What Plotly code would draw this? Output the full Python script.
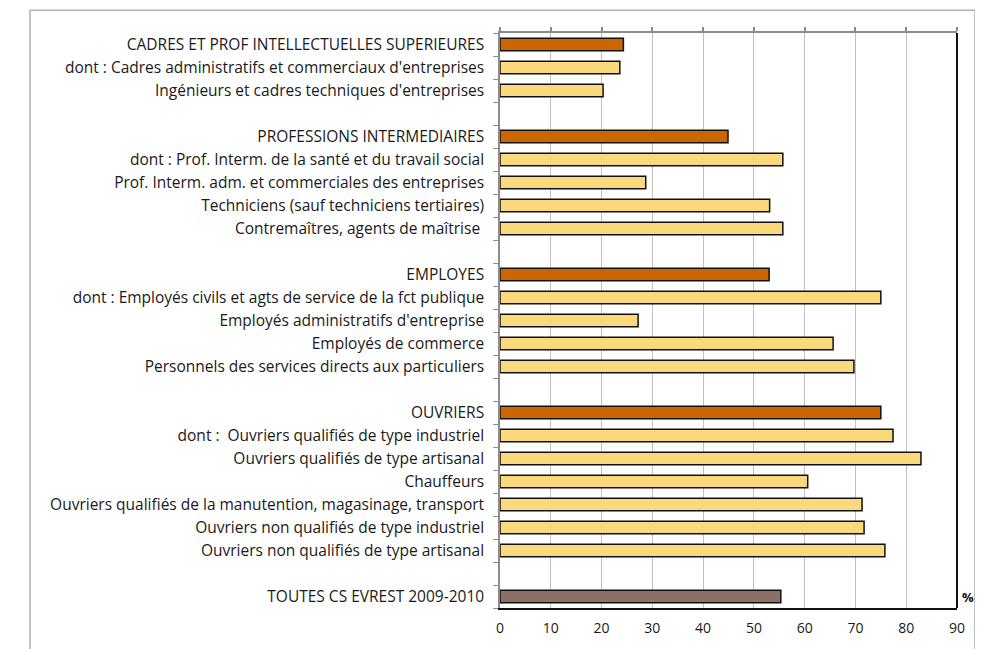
import plotly.graph_objects as go

labels = [
    "CADRES ET PROF INTELLECTUELLES SUPERIEURES",
    "dont : Cadres administratifs et commerciaux d'entreprises",
    "Ingénieurs et cadres techniques d'entreprises",
    "",
    "PROFESSIONS INTERMEDIAIRES",
    "dont : Prof. Interm. de la santé et du travail social",
    "Prof. Interm. adm. et commerciales des entreprises",
    "Techniciens (sauf techniciens tertiaires)",
    "Contremaîtres, agents de maîtrise ",
    "",
    "EMPLOYES",
    "dont : Employés civils et agts de service de la fct publique",
    "Employés administratifs d'entreprise",
    "Employés de commerce",
    "Personnels des services directs aux particuliers",
    "",
    "OUVRIERS",
    "dont :  Ouvriers qualifiés de type industriel",
    "Ouvriers qualifiés de type artisanal",
    "Chauffeurs",
    "Ouvriers qualifiés de la manutention, magasinage, transport",
    "Ouvriers non qualifiés de type industriel",
    "Ouvriers non qualifiés de type artisanal",
    "",
    "TOUTES CS EVREST 2009-2010",
]
values = [
    24.3, 23.6, 20.3, None,
    44.9, 55.7, 28.7, 53.1, 55.7, None,
    53.0, 75.0, 27.2, 65.6, 69.7, None,
    75.0, 77.4, 82.9, 60.6, 71.3, 71.7, 75.8, None,
    55.3,
]
kinds = [
    "g", "s", "s", "-",
    "g", "s", "s", "s", "s", "-",
    "g", "s", "s", "s", "s", "-",
    "g", "s", "s", "s", "s", "s", "s", "-",
    "t",
]
x_ticks = [0, 10, 20, 30, 40, 50, 60, 70, 80, 90]

color_map = {"g": "#CC6600", "s": "#FAD97C", "t": "#8C7068", "-": "rgba(0,0,0,0)"}
positions = list(range(len(labels)))
colors = [color_map[k] for k in kinds]

FONT = "Open Sans, Noto Sans, sans-serif"

fig = go.Figure()
fig.add_trace(go.Bar(
    x=values,
    y=positions,
    orientation="h",
    width=0.55,
    marker=dict(color=colors, line=dict(color="#111111", width=1.5)),
    hoverinfo="x",
))
# empty helper trace so the top (gray) axis with its small tick marks is drawn
fig.add_trace(go.Scatter(x=[None], y=[None], xaxis="x2", yaxis="y",
                         mode="markers", showlegend=False, hoverinfo="skip"))

# body of the page has an 8px margin: compensate so the plot area sits at x=500..957, y=33..612
fig.update_layout(
    width=975, height=641,
    margin=dict(l=492, r=26, t=25, b=37),
    paper_bgcolor="white", plot_bgcolor="white",
    showlegend=False,
    font=dict(family=FONT, size=15.5, color="#1a1a1a"),
    xaxis2=dict(overlaying="x", side="top", range=[0, 90], tickvals=x_ticks,
                showticklabels=False, ticks="outside", ticklen=4, tickwidth=1.5,
                tickcolor="#8C8C8C", showline=True, linecolor="#8C8C8C", linewidth=1.5,
                showgrid=False, zeroline=False, fixedrange=True),
)
fig.layout.xaxis.update(
    range=[0, 90], tickvals=x_ticks, ticktext=[str(t) for t in x_ticks],
    showgrid=True, gridcolor="#C0C0C0", gridwidth=1.3,
    showline=True, linecolor="#111111", linewidth=1.5,
    ticks="", zeroline=False, tickfont=dict(size=14, color="#1a1a1a"),
    ticklabelstandoff=6, fixedrange=True,
)
fig.update_yaxes(
    range=[len(labels) - 0.5, -0.5],
    tickmode="array", tickvals=positions, ticktext=labels,
    ticks="", showgrid=False, zeroline=False,
    showline=True, linecolor="#8C8C8C", linewidth=1.5,
    minor=dict(tickmode="array", tickvals=[p - 0.5 for p in positions] + [len(labels) - 0.5],
               ticks="outside", ticklen=5, tickcolor="#8C8C8C", tickwidth=1.2, showgrid=False),
    ticklabelstandoff=11,
    tickfont=dict(size=15.5, color="#1a1a1a"),
    fixedrange=True,
)

# right (black) frame line of the plot area
fig.add_shape(type="line", xref="paper", yref="paper", x0=1, x1=1, y0=0, y1=1,
              line=dict(color="#111111", width=2))
# outer chart border
fig.add_shape(type="rect", xref="paper", yref="paper",
              x0=(30 - 500) / 457, x1=(975 - 500) / 457,
              y0=(612 - 660) / 579, y1=(612 - 10) / 579,
              line=dict(color="#B0B0B0", width=1.5), layer="below")

fig.add_annotation(text="<b>%</b>", xref="paper", yref="y", x=1.0, xanchor="left", xshift=3,
                   y=len(labels) - 1, showarrow=False, font=dict(size=13, color="#111111"))

fig.write_html("out.html")
